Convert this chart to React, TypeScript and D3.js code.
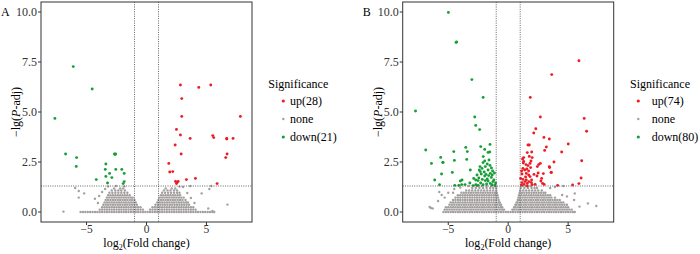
import React from 'react';
import * as d3 from 'd3';

// ---------- shared axis data ----------
const xTicks = [-5, 0, 5];
const yTicks = [0, 2.5, 5, 7.5, 10];
const yTickLabels = ['0.0', '2.5', '5.0', '7.5', '10.0'];
const threshX = [-1, 1];
const threshY = 1.3;
const legendTitle = 'Significance';
const legendLabelsA = ['up(28)', 'none', 'down(21)'];
const legendLabelsB = ['up(74)', 'none', 'down(80)'];

// ---------- panel A ----------
const upA: [number, number][] = [
  [2.83, 6.35], [4.36, 6.23], [5.36, 6.35], [2.94, 5.67], [2.94, 4.78], [7.83, 4.78], [2.5, 4.13],
  [2.83, 3.85], [3.64, 3.68], [2.39, 3.35], [2.89, 2.9], [1.86, 2.43], [1.94, 2.0], [2.19, 2.02],
  [2.42, 1.53], [2.64, 1.53], [2.5, 1.42], [3.33, 1.62], [4.08, 1.68], [5.53, 3.82], [5.61, 3.72],
  [6.69, 3.68], [7.22, 3.68], [6.72, 2.9], [6.61, 2.72], [5.89, 1.42], [2.55, 1.48], [6.7, 3.65],
];
const downA: [number, number][] = [
  [-6.11, 7.27], [-4.53, 6.15], [-7.64, 4.68], [-6.75, 2.9], [-5.83, 2.72], [-5.86, 2.28], [-4.19, 1.62],
  [-3.39, 2.4], [-3.44, 2.13], [-3.39, 1.78], [-3.25, 1.45], [-3.08, 1.93], [-2.89, 1.72], [-2.67, 2.9],
  [-2.58, 2.9], [-2.56, 2.13], [-2.06, 2.13], [-1.86, 1.93], [-1.86, 1.52], [-1.94, 1.42], [-2.62, 2.88],
];
const noneBandA: number[] = [
  -5.5, -5.3, -5.1, -4.9, -4.7, -4.5, -4.3, -4.1, -3.9, -3.7, -3.5, -3.3, -3.1, -2.9, -2.7, -2.5, -2.3,
  -2.1, -1.9, -1.7, -1.5, -1.3, -1.1, -0.9, -0.7, -0.5, -0.3, -0.1, 0.1, 0.3, 0.5, 0.7, 0.9, 1.1, 1.3,
  1.5, 1.7, 1.9, 2.1, 2.3, 2.5, 2.7, 2.9, 3.1, 3.3, 3.5, 3.7, 3.9, 4.1, 4.3, 4.5, 4.7, 4.9, 5.1, 5.3, 5.5, 5.65,
];
const noneRowsA: [number, number[]][] = [
  [0.12, [-3.9, -3.7, -3.5, -3.3, -3.1, -2.9, -2.7, -2.5, -2.3, -2.1, -1.9, -1.7, -1.5, -1.3, -1.1, -0.9, -0.7, -0.5, -0.3,
    0.3, 0.5, 0.7, 0.9, 1.1, 1.3, 1.5, 1.7, 1.9, 2.1, 2.3, 2.5, 2.7, 2.9, 3.1, 3.3, 3.5, 3.7, 3.9, 4.1]],
  [0.24, [-3.7, -3.5, -3.3, -3.1, -2.9, -2.7, -2.5, -2.3, -2.1, -1.9, -1.7, -1.5, -1.3, -1.1, -0.9, -0.7, -0.5,
    0.5, 0.7, 0.9, 1.1, 1.3, 1.5, 1.7, 1.9, 2.1, 2.3, 2.5, 2.7, 2.9, 3.1, 3.3, 3.5, 3.7, 3.9]],
  [0.36, [-3.6, -3.4, -3.2, -3.0, -2.8, -2.6, -2.4, -2.2, -2.0, -1.8, -1.6, -1.4, -1.2, -1.0, -0.8,
    0.75, 0.95, 1.15, 1.35, 1.55, 1.75, 1.95, 2.15, 2.35, 2.55, 2.75, 2.95, 3.15, 3.35, 3.55]],
  [0.48, [-3.5, -3.3, -3.1, -2.9, -2.7, -2.5, -2.3, -2.1, -1.9, -1.7, -1.5, -1.3, -1.1, -0.9,
    0.9, 1.1, 1.3, 1.5, 1.7, 1.9, 2.1, 2.3, 2.5, 2.7, 2.9, 3.1, 3.3, 3.45]],
  [0.6, [-3.4, -3.2, -3.0, -2.8, -2.6, -2.4, -2.2, -2.0, -1.8, -1.6, -1.4, -1.2, -1.0,
    1.0, 1.2, 1.4, 1.6, 1.8, 2.0, 2.2, 2.4, 2.6, 2.8, 3.0, 3.25]],
  [0.72, [-3.3, -3.1, -2.9, -2.7, -2.5, -2.3, -2.1, -1.9, -1.7, -1.5, -1.3, -1.15,
    1.1, 1.3, 1.5, 1.7, 1.9, 2.1, 2.3, 2.5, 2.7, 2.9, 3.1]],
  [0.84, [-3.2, -3.0, -2.8, -2.6, -2.4, -2.2, -2.0, -1.8, -1.6, -1.4,
    1.2, 1.4, 1.6, 1.8, 2.0, 2.2, 2.4, 2.6, 2.8]],
  [0.96, [-3.1, -2.85, -2.6, -2.35, -2.1, -1.85, -1.6, 1.3, 1.55, 1.8, 2.05, 2.3, 2.55, 2.75]],
  [1.08, [-2.9, -2.6, -2.35, -2.1, -1.8, 1.45, 1.75, 2.0, 2.3, 2.55]],
  [1.18, [-2.7, -2.2, -1.95, 1.6, 2.1, 2.4]],
];
const noneScatterA: [number, number][] = [
  [-6.93, 0.02], [-5.95, 1.2], [-5.65, 1.05], [-5.2, 0.93], [-5.65, 0.72], [-4.3, 0.66], [-4.05, 0.45],
  [-3.95, 0.8], [-3.7, 1.0], [-3.45, 1.15], [-3.2, 1.28], [-2.55, 1.3], [-1.85, 1.28], [2.75, 1.27],
  [3.05, 1.25], [3.65, 1.3], [3.4, 0.95], [3.7, 0.7], [4.0, 0.45], [4.6, 0.93], [5.24, 1.15], [5.4, 1.3],
  [5.15, 0.18], [6.75, 0.37], [5.5, 0.05],
];

// ---------- panel B ----------
const upB: [number, number][] = [
  [5.9, 7.56], [3.63, 6.87], [1.84, 5.73], [2.68, 4.75], [6.34, 4.68], [6.54, 4.04], [2.3, 4.16], [2.13, 3.95],
  [2.98, 3.73], [3.43, 3.65], [1.65, 3.35], [1.76, 3.35], [5.01, 3.4], [3.18, 3.25], [3.04, 3.08], [1.96, 3.0],
  [1.59, 2.97], [4.46, 3.0], [1.76, 2.78], [1.29, 2.72], [1.29, 2.53], [3.82, 2.5], [6.13, 2.56], [2.68, 2.43],
  [2.54, 2.37], [1.82, 2.43], [1.48, 2.37], [1.65, 2.32], [3.43, 2.27], [2.43, 2.27], [1.87, 2.22], [1.23, 2.18],
  [1.38, 2.1], [3.6, 1.98], [2.93, 1.92], [1.15, 1.9], [1.51, 1.93], [1.71, 1.85], [1.82, 1.77], [2.15, 1.88],
  [2.4, 1.8], [6.08, 1.7], [2.79, 1.68], [1.23, 1.63], [1.51, 1.6], [2.73, 1.55], [2.87, 1.43], [1.73, 1.52],
  [1.59, 1.43], [1.93, 1.47], [1.15, 1.47], [1.32, 1.38], [5.37, 1.35], [5.9, 1.42], [4.12, 1.33], [3.46, 2.22],
  [1.1, 1.35], [1.45, 1.75], [1.95, 1.6], [1.2, 2.65], [2.0, 2.72], [1.7, 2.05], [2.25, 1.38], [1.26, 2.45],
  [3.0, 1.38], [1.04, 1.68], [1.6, 1.3], [1.4, 1.52], [2.5, 1.95], [1.9, 2.55], [1.12, 2.05], [2.0, 1.37],
  [3.57, 1.98], [1.55, 2.15],
];
const downB: [number, number][] = [
  [-4.99, 9.98], [-4.35, 8.48], [-4.3, 8.5], [-3.03, 6.62], [-2.09, 5.73], [-7.73, 5.05], [-2.79, 4.75],
  [-2.71, 4.33], [-2.38, 4.12], [-6.88, 3.1], [-4.54, 3.02], [-3.54, 3.23], [-3.41, 3.02], [-2.29, 3.27],
  [-1.96, 3.13], [-1.52, 3.38], [-1.68, 2.98], [-1.54, 3.0], [-5.63, 2.73], [-3.46, 2.63], [-6.4, 2.43],
  [-5.43, 2.48], [-2.08, 2.77], [-1.96, 2.55], [-2.1, 2.47], [-2.35, 2.27], [-2.18, 2.18], [-1.91, 2.27],
  [-1.52, 2.33], [-3.16, 2.1], [-4.66, 1.98], [-5.56, 1.9], [-2.41, 2.1], [-2.33, 2.02], [-1.68, 2.1],
  [-1.85, 1.88], [-1.49, 1.93], [-1.33, 1.85], [-1.96, 1.8], [-1.63, 1.82], [-1.41, 1.73], [-2.88, 1.68],
  [-2.71, 1.6], [-2.52, 1.57], [-2.16, 1.63], [-1.91, 1.57], [-1.68, 1.55], [-1.49, 1.43], [-1.27, 1.52],
  [-6.13, 1.6], [-3.85, 1.6], [-5.73, 1.36], [-4.46, 1.33], [-4.12, 1.33], [-3.88, 1.37], [-3.6, 1.37],
  [-3.99, 1.55], [-2.93, 1.32], [-2.7, 1.36], [-2.5, 1.33], [-2.1, 1.36], [-1.35, 1.36], [-1.1, 1.34],
  [-4.49, 2.58], [-2.25, 1.9], [-1.2, 1.6], [-1.75, 2.4], [-2.6, 1.85], [-1.3, 2.05], [-2.0, 2.0],
  [-1.15, 1.95], [-1.8, 1.4], [-2.3, 1.45], [-1.6, 2.6], [-1.4, 2.2], [-2.45, 1.7], [-1.05, 1.45],
  [-3.2, 1.45], [-5.46, 2.48], [-1.75, 1.65],
];
const noneBandB: number[] = [
  -5.4, -5.2, -5.0, -4.8, -4.6, -4.4, -4.2, -4.0, -3.8, -3.6, -3.4, -3.2, -3.0, -2.8, -2.6, -2.4, -2.2, -2.0,
  -1.8, -1.6, -1.4, -1.2, -1.0, -0.8, -0.6, -0.4, -0.2, 0.0, 0.2, 0.4, 0.6, 0.8, 1.0, 1.2, 1.4, 1.6, 1.8, 2.0,
  2.2, 2.4, 2.6, 2.8, 3.0, 3.2, 3.4, 3.6, 3.8, 4.0, 4.2, 4.4, 4.6, 4.8, 5.0, 5.2, 5.4, 5.55,
];
const noneRowsB: [number, number[]][] = [
  [0.12, [-5.3, -5.1, -4.9, -4.7, -4.5, -4.3, -4.1, -3.9, -3.7, -3.5, -3.3, -3.1, -2.9, -2.7, -2.5, -2.3, -2.1,
    -1.9, -1.7, -1.5, -1.3, -1.1, -0.9, -0.7, -0.5, -0.35,
    0.35, 0.5, 0.7, 0.9, 1.1, 1.3, 1.5, 1.7, 1.9, 2.1, 2.3, 2.5, 2.7, 2.9, 3.1, 3.3, 3.5, 3.7, 3.9, 4.1, 4.3,
    4.5, 4.7, 4.9, 5.1, 5.3]],
  [0.24, [-5.2, -5.0, -4.8, -4.6, -4.4, -4.2, -4.0, -3.8, -3.6, -3.4, -3.2, -3.0, -2.8, -2.6, -2.4, -2.2, -2.0,
    -1.8, -1.6, -1.4, -1.2, -1.0, -0.8, -0.6, -0.5,
    0.5, 0.6, 0.8, 1.0, 1.2, 1.4, 1.6, 1.8, 2.0, 2.2, 2.4, 2.6, 2.8, 3.0, 3.2, 3.4, 3.6, 3.8, 4.0, 4.2, 4.4,
    4.6, 4.8, 5.0]],
  [0.36, [-4.9, -4.7, -4.5, -4.3, -4.1, -3.9, -3.7, -3.5, -3.3, -3.1, -2.9, -2.7, -2.5, -2.3, -2.1, -1.9, -1.7,
    -1.5, -1.3, -1.1, -0.9, -0.7, -0.6,
    0.6, 0.7, 0.9, 1.1, 1.3, 1.5, 1.7, 1.9, 2.1, 2.3, 2.5, 2.7, 2.9, 3.1, 3.3, 3.5, 3.7, 3.9, 4.1, 4.3, 4.5,
    4.7, 4.9]],
  [0.48, [-4.8, -4.6, -4.4, -4.2, -4.0, -3.8, -3.6, -3.4, -3.2, -3.0, -2.8, -2.6, -2.4, -2.2, -2.0, -1.8, -1.6,
    -1.4, -1.2, -1.0, -0.8, -0.7,
    0.7, 0.8, 1.0, 1.2, 1.4, 1.6, 1.8, 2.0, 2.2, 2.4, 2.6, 2.8, 3.0, 3.2, 3.4, 3.6, 3.8, 4.0, 4.2, 4.4, 4.6]],
  [0.6, [-4.6, -4.4, -4.2, -4.0, -3.8, -3.6, -3.4, -3.2, -3.0, -2.8, -2.6, -2.4, -2.2, -2.0, -1.8, -1.6, -1.4,
    -1.2, -1.0, -0.8,
    0.8, 0.9, 1.1, 1.3, 1.5, 1.7, 1.9, 2.1, 2.3, 2.5, 2.7, 2.9, 3.1, 3.3, 3.5, 3.7, 3.9, 4.1, 4.3]],
  [0.72, [-4.4, -4.2, -4.0, -3.8, -3.6, -3.4, -3.2, -3.0, -2.8, -2.6, -2.4, -2.2, -2.0, -1.8, -1.6, -1.4, -1.2,
    -1.0, -0.85,
    0.85, 1.0, 1.2, 1.4, 1.6, 1.8, 2.0, 2.2, 2.4, 2.6, 2.8, 3.0, 3.2, 3.4, 3.6, 3.9]],
  [0.84, [-4.2, -4.0, -3.8, -3.6, -3.4, -3.2, -3.0, -2.8, -2.6, -2.4, -2.2, -2.0, -1.8, -1.6, -1.4, -1.2, -1.05, -0.9,
    0.9, 1.1, 1.3, 1.5, 1.7, 1.9, 2.1, 2.3, 2.5, 2.7, 2.9, 3.1, 3.3, 3.5]],
  [0.96, [-5.0, -4.6, -3.9, -3.7, -3.5, -3.3, -3.1, -2.9, -2.7, -2.5, -2.3, -2.1, -1.9, -1.7, -1.5, -1.3, -1.1, -0.95,
    0.95, 1.15, 1.35, 1.55, 1.75, 1.95, 2.15, 2.35, 2.55, 2.75, 2.95, 3.1]],
  [1.08, [-3.5, -3.25, -3.0, -2.75, -2.5, -2.25, -2.0, -1.75, -1.5, -1.25, -1.0,
    1.0, 1.25, 1.5, 1.75, 2.0, 2.25, 2.5, 2.8]],
  [1.2, [-3.0, -2.7, -2.4, -2.1, -1.8, -1.5, -1.25, -1.0, 1.05, 1.35, 1.65, 1.95, 2.2, 2.4]],
  [1.3, [-2.6, -2.2, -1.8, -1.4, -1.1, 1.2, 1.5, 1.9]],
];
const noneScatterB: [number, number][] = [
  [-6.45, 0.2], [-6.3, 0.18], [-6.55, 0.25], [-5.75, 1.0], [-5.3, 0.72], [-5.85, 0.55], [-5.55, 0.85],
  [-4.5, 1.15], [-4.0, 1.22], [-3.3, 1.3], [5.55, 0.93], [6.65, 0.43], [7.35, 0.3], [5.95, 0.27], [5.5, 0.6],
  [4.9, 0.78], [4.5, 0.85], [3.5, 1.2], [3.9, 1.25], [4.6, 1.3],
];

// ---------- styling ----------
const RED = '#ec1c24';
const GREEN = '#15a035';
const GREY = '#a39f9f';
const FONT = "'Liberation Serif', 'Times New Roman', serif";

type Pt = [number, number];

interface PanelProps {
  ox: number;
  tag: string;
  up: Pt[];
  down: Pt[];
  band: number[];
  rows: [number, number[]][];
  scatter: Pt[];
  legend: string[];
  legendX: number;
  legendDotX: number;
  legendTextX: number;
}

function Panel(p: PanelProps) {
  const left = p.ox;
  const right = p.ox + 211;
  const top = 2;
  const bottom = 222;
  const x = d3.scaleLinear().domain([-8.8, 8.8]).range([left, right]);
  const y = d3.scaleLinear().domain([-0.5, 10.5]).range([bottom, top]);

  const greyPts: Pt[] = [];
  p.band.forEach((v) => greyPts.push([v, 0]));
  p.rows.forEach(([yy, xs]) => xs.forEach((v) => greyPts.push([v, yy])));
  p.scatter.forEach((d) => greyPts.push(d));

  const legendColors = [RED, GREY, GREEN];
  const legendR = [1.6, 1.2, 1.6];
  const baselines = [105, 123, 141];
  const txt = { fontFamily: FONT };

  return (
    <g>
      <text x={p.ox - 40} y={15.5} fontSize={12} style={txt} fill="#000">{p.tag}</text>
      {/* points */}
      <g>
        {greyPts.map((d, i) => (
          <circle key={'g' + i} cx={x(d[0])} cy={y(d[1])} r={1.2} fill={GREY} />
        ))}
        {p.up.map((d, i) => (
          <circle key={'u' + i} cx={x(d[0])} cy={y(d[1])} r={1.45} fill={RED} />
        ))}
        {p.down.map((d, i) => (
          <circle key={'d' + i} cx={x(d[0])} cy={y(d[1])} r={1.45} fill={GREEN} />
        ))}
      </g>
      {/* threshold lines */}
      {threshX.map((t) => (
        <line key={'tx' + t} x1={x(t)} x2={x(t)} y1={top} y2={bottom} stroke="#555" strokeWidth={0.9} strokeDasharray="1,1.3" />
      ))}
      <line x1={left} x2={right} y1={y(threshY)} y2={y(threshY)} stroke="#555" strokeWidth={0.9} strokeDasharray="1,1.3" />
      {/* border */}
      <rect x={left} y={top} width={right - left} height={bottom - top} fill="none" stroke="#333" strokeWidth={1} />
      {/* y axis */}
      {yTicks.map((t, i) => (
        <g key={'yt' + t}>
          <line x1={left - 3} x2={left} y1={y(t)} y2={y(t)} stroke="#333" strokeWidth={1} />
          <text x={left - 4} y={y(t) + 4} textAnchor="end" fontSize={12} style={txt} fill="#333">{yTickLabels[i]}</text>
        </g>
      ))}
      {/* x axis */}
      {xTicks.map((t) => (
        <g key={'xt' + t}>
          <line x1={x(t)} x2={x(t)} y1={bottom} y2={bottom + 3} stroke="#333" strokeWidth={1} />
          <text x={x(t)} y={233.3} textAnchor="middle" fontSize={11.5} style={txt} fill="#333">{t < 0 ? '\u2212' + Math.abs(t) : String(t)}</text>
        </g>
      ))}
      <text x={(left + right) / 2} y={247.3} textAnchor="middle" fontSize={12} style={txt} fill="#000">
        log<tspan fontSize={8} dy={3}>2</tspan><tspan dy={-3}>(Fold change)</tspan>
      </text>
      <text transform={`translate(${p.ox - 21},${(top + bottom) / 2}) rotate(-90)`} textAnchor="middle" fontSize={12} style={txt} fill="#000">
        {'\u2212lg('}<tspan fontStyle="italic">P</tspan>{'-adj)'}
      </text>
      {/* legend */}
      <text x={p.legendX} y={87.5} fontSize={12} style={txt} fill="#000">{legendTitle}</text>
      {p.legend.map((l, i) => (
        <g key={'lg' + i}>
          <circle cx={p.legendDotX} cy={baselines[i] - 4} r={legendR[i]} fill={legendColors[i]} />
          <text x={p.legendTextX} y={baselines[i]} fontSize={12} style={txt} fill="#000">{l}</text>
        </g>
      ))}
    </g>
  );
}

export default function App() {
  return (
    <svg width={700} height={254} style={{ position: 'absolute', left: 0, top: 0, background: '#fff' }}>
      <rect x={0} y={0} width={700} height={254} fill="#fff" />
      <Panel ox={41} tag="A" up={upA} down={downA} band={noneBandA} rows={noneRowsA} scatter={noneScatterA}
        legend={legendLabelsA} legendX={268.3} legendDotX={283.3} legendTextX={290} />
      <Panel ox={402.7} tag="B" up={upB} down={downB} band={noneBandB} rows={noneRowsB} scatter={noneScatterB}
        legend={legendLabelsB} legendX={630} legendDotX={638.3} legendTextX={651.7} />
    </svg>
  );
}
